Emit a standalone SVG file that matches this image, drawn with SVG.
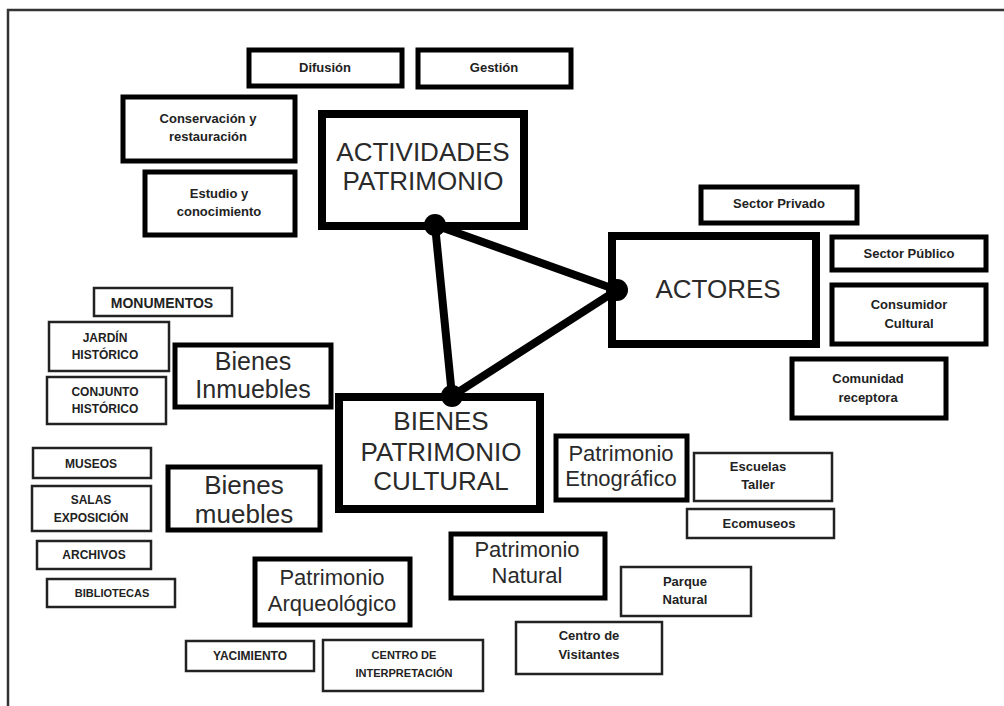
<svg xmlns="http://www.w3.org/2000/svg" width="1004" height="706" viewBox="0 0 1004 706">
<style>
rect{fill:#fff;stroke:#000}
.k{stroke-width:8}
.m{stroke-width:5}
.t{stroke-width:2.5;stroke:#222}
.s{font-family:"Liberation Sans",Arial,sans-serif;font-weight:bold;font-size:13px;fill:#222;text-anchor:middle}
.c{font-size:12px}
.L{font-family:"Liberation Sans",Arial,sans-serif;font-size:26px;fill:#2a2a2a;text-anchor:middle}
.P{font-size:22px}
.frame{stroke:#333;stroke-width:2.5;fill:none}
.conn{stroke:#000;stroke-width:8;stroke-linecap:round;fill:none}
</style>
<rect x="0" y="0" width="1004" height="706" style="fill:#fff;stroke:none"/>
<path class="frame" d="M8 706 V10 H1004"/>

<g id="difusion"><rect class="m" x="249" y="50" width="153" height="36"/><text class="s" x="325" y="72">Difusión</text></g>
<g id="gestion"><rect class="m" x="418" y="50" width="153" height="37"/><text class="s" x="494" y="72">Gestión</text></g>
<g id="conservacion"><rect class="m" x="123" y="97" width="172" height="64"/><text class="s" x="208" y="123">Conservación y</text><text class="s" x="208" y="141">restauración</text></g>
<g id="estudio"><rect class="m" x="145" y="172" width="150" height="63"/><text class="s" x="219" y="198">Estudio y</text><text class="s" x="219" y="216">conocimiento</text></g>
<g id="actividades"><rect class="k" x="322" y="114" width="202" height="112"/><text class="L" x="423" y="161">ACTIVIDADES</text><text class="L" x="423" y="190">PATRIMONIO</text></g>

<g id="actores"><rect class="k" x="612" y="236" width="204" height="108"/><text class="L" x="718" y="298">ACTORES</text></g>
<g id="sector-privado"><rect class="m" x="701" y="187" width="156" height="36"/><text class="s" x="779" y="208">Sector Privado</text></g>
<g id="sector-publico"><rect class="m" x="832" y="237" width="154" height="33"/><text class="s" x="909" y="258">Sector Público</text></g>
<g id="consumidor"><rect class="m" x="832" y="285" width="154" height="59"/><text class="s" x="909" y="309">Consumidor</text><text class="s" x="909" y="328">Cultural</text></g>
<g id="comunidad"><rect class="m" x="792" y="359" width="154" height="59"/><text class="s" x="868" y="383">Comunidad</text><text class="s" x="868" y="402">receptora</text></g>

<g id="monumentos"><rect class="t" x="94" y="288" width="138" height="28"/><text class="s" x="162" y="308" style="font-size:14px">MONUMENTOS</text></g>
<g id="jardin"><rect class="t" x="49" y="322" width="120" height="49"/><text class="s c" x="105" y="342">JARDÍN</text><text class="s c" x="105" y="359">HISTÓRICO</text></g>
<g id="conjunto"><rect class="t" x="47" y="377" width="119" height="47"/><text class="s c" x="105" y="396">CONJUNTO</text><text class="s c" x="105" y="413">HISTÓRICO</text></g>
<g id="bienes-inmuebles"><rect class="m" x="175" y="345" width="156" height="62"/><text class="L" x="253" y="370" style="font-size:25px">Bienes</text><text class="L" x="253" y="398" style="font-size:25px">Inmuebles</text></g>

<g id="museos"><rect class="t" x="33" y="448" width="118" height="30"/><text class="s c" x="91" y="468">MUSEOS</text></g>
<g id="salas"><rect class="t" x="32" y="486" width="119" height="45"/><text class="s c" x="91" y="504">SALAS</text><text class="s c" x="91" y="522">EXPOSICIÓN</text></g>
<g id="archivos"><rect class="t" x="37" y="541" width="114" height="28"/><text class="s c" x="94" y="559">ARCHIVOS</text></g>
<g id="bibliotecas"><rect class="t" x="47" y="579" width="128" height="28"/><text class="s c" x="112" y="597" style="font-size:11px">BIBLIOTECAS</text></g>
<g id="bienes-muebles"><rect class="m" x="168" y="467" width="152" height="63"/><text class="L" x="244" y="494">Bienes</text><text class="L" x="244" y="523">muebles</text></g>

<g id="bienes-patrimonio"><rect class="k" x="339" y="397" width="201" height="112"/><text class="L" x="441" y="430">BIENES</text><text class="L" x="441" y="461">PATRIMONIO</text><text class="L" x="441" y="490">CULTURAL</text></g>

<g id="etnografico"><rect class="m" x="556" y="436" width="131" height="64"/><text class="L P" x="621" y="461">Patrimonio</text><text class="L P" x="621" y="486">Etnográfico</text></g>
<g id="escuelas"><rect class="t" x="694" y="453" width="138" height="48"/><text class="s" x="758" y="471">Escuelas</text><text class="s" x="758" y="489">Taller</text></g>
<g id="ecomuseos"><rect class="t" x="687" y="509" width="147" height="29"/><text class="s" x="759" y="528">Ecomuseos</text></g>

<g id="natural"><rect class="m" x="451" y="534" width="154" height="64"/><text class="L P" x="527" y="557">Patrimonio</text><text class="L P" x="527" y="583">Natural</text></g>
<g id="parque"><rect class="t" x="621" y="567" width="130" height="49"/><text class="s" x="685" y="586">Parque</text><text class="s" x="685" y="604">Natural</text></g>
<g id="visitantes"><rect class="t" x="516" y="622" width="146" height="52"/><text class="s" x="589" y="640">Centro de</text><text class="s" x="589" y="659">Visitantes</text></g>

<g id="arqueologico"><rect class="m" x="255" y="559" width="155" height="66"/><text class="L P" x="332" y="585">Patrimonio</text><text class="L P" x="332" y="611">Arqueológico</text></g>
<g id="yacimiento"><rect class="t" x="186" y="641" width="128" height="30"/><text class="s c" x="250" y="660">YACIMIENTO</text></g>
<g id="centro-interpretacion"><rect class="t" x="323" y="640" width="160" height="51"/><text class="s c" x="404" y="659" style="font-size:11px">CENTRO DE</text><text class="s c" x="404" y="677" style="font-size:11px">INTERPRETACIÓN</text></g>

<g id="connectors">
<path class="conn" d="M435 225 L617 290 L452 396 Z"/>
<circle cx="435" cy="225" r="11"/>
<circle cx="617" cy="290" r="11"/>
<circle cx="452" cy="396" r="11"/>
</g>
</svg>
